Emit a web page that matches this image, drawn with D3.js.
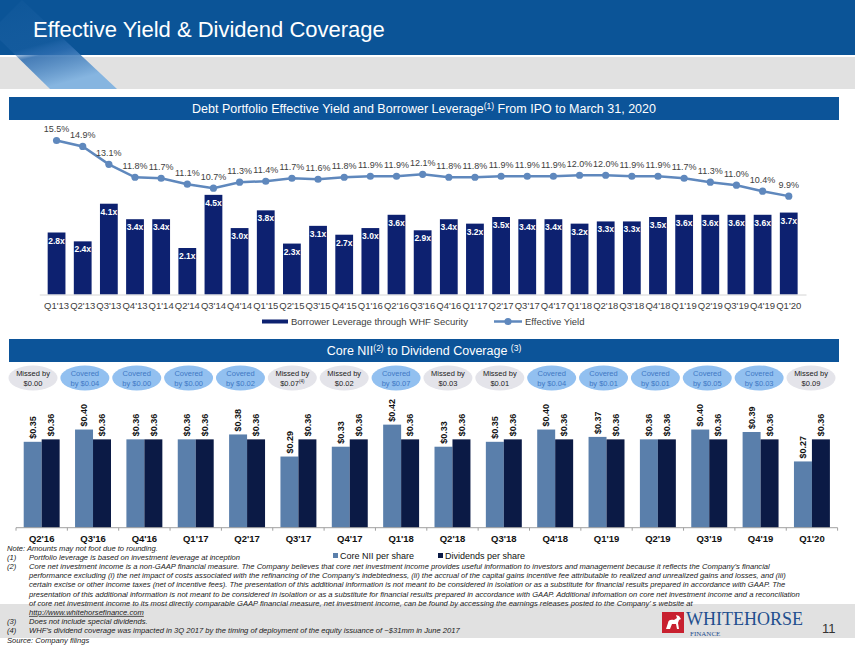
<!DOCTYPE html>
<html>
<head>
<meta charset="utf-8">
<script src="https://cdn.jsdelivr.net/npm/d3@7"></script>
<style>
  body { margin: 0; background: #fff; }
  svg { display: block; font-family: "Liberation Sans", Arial, sans-serif; }
</style>
</head>
<body>
<div id="canvas"></div>
<script>
"use strict"

/* Data: top chart */
let quarters = ["Q1'13", "Q2'13", "Q3'13", "Q4'13", "Q1'14", "Q2'14", "Q3'14", "Q4'14",
    "Q1'15", "Q2'15", "Q3'15", "Q4'15", "Q1'16", "Q2'16", "Q3'16", "Q4'16",
    "Q1'17", "Q2'17", "Q3'17", "Q4'17", "Q1'18", "Q2'18", "Q3'18", "Q4'18",
    "Q1'19", "Q2'19", "Q3'19", "Q4'19", "Q1'20"];
let leverage = [2.8, 2.4, 4.1, 3.4, 3.4, 2.1, 4.5, 3.0, 3.8, 2.3, 3.1, 2.7, 3.0, 3.6, 2.9,
    3.4, 3.2, 3.5, 3.4, 3.4, 3.2, 3.3, 3.3, 3.5, 3.6, 3.6, 3.6, 3.6, 3.7];
let yieldPct = [15.5, 14.9, 13.1, 11.8, 11.7, 11.1, 10.7, 11.3, 11.4, 11.7, 11.6, 11.8, 11.9, 11.9, 12.1,
    11.8, 11.8, 11.9, 11.9, 11.9, 12.0, 12.0, 11.9, 11.9, 11.7, 11.3, 11.0, 10.4, 9.9];

/* Data: bottom chart */
let quarters2 = ["Q2'16", "Q3'16", "Q4'16", "Q1'17", "Q2'17", "Q3'17", "Q4'17", "Q1'18",
    "Q2'18", "Q3'18", "Q4'18", "Q1'19", "Q2'19", "Q3'19", "Q4'19", "Q1'20"];
let coreNII = [0.35, 0.40, 0.36, 0.36, 0.38, 0.29, 0.33, 0.42, 0.33, 0.35, 0.40, 0.37, 0.36, 0.40, 0.39, 0.27];
let dividends = [0.36, 0.36, 0.36, 0.36, 0.36, 0.36, 0.36, 0.36, 0.36, 0.36, 0.36, 0.36, 0.36, 0.36, 0.36, 0.36];
let coverageWord = ["Missed by", "Covered", "Covered", "Covered", "Covered", "Missed by", "Missed by", "Covered",
    "Missed by", "Missed by", "Covered", "Covered", "Covered", "Covered", "Covered", "Missed by"];
let coverageAmt = ["$0.00", "by $0.04", "by $0.00", "by $0.00", "by $0.02", "$0.07", "$0.02", "by $0.07",
    "$0.03", "$0.01", "by $0.04", "by $0.01", "by $0.01", "by $0.05", "by $0.03", "$0.09"];
let coverageNote = ["", "", "", "", "", "(4)", "", "", "", "", "", "", "", "", "", ""];
let seriesNames = ["Core NII per share", "Dividends per share"];

let footnotes = [
    ["Note:", "Amounts  may  not foot due to rounding."],
    ["(1)", "Portfolio leverage is based on investment  leverage  at inception"],
    ["(2)", "Core  net investment  income  is a non-GAAP  financial measure.  The Company  believes that core net investment  income  provides useful information  to investors and management   because it reflects the Company\u2019s  financial"],
    ["", "performance  excluding (i) the net impact  of costs associated with the refinancing of the Company\u2019s  indebtedness, (ii) the accrual of the capital gains incentive fee attributable to realized  and unrealized gains and losses, and (iii)"],
    ["", "certain excise or other income taxes (net of incentive fees). The presentation of this additional information  is not meant  to be considered in isolation or as a substitute for financial results prepared  in accordance with GAAP.  The"],
    ["", "presentation of this additional information  is not meant  to be considered in isolation or as a substitute for financial results prepared in accordance with GAAP.  Additional infomation  on core net investment  income  and a reconciliation"],
    ["", "of core net investment  income  to its most  directly comparable  GAAP  financial measure,  net investment  income,  can be found by accessing the earnings releases posted to the Company\u2019 s  website at"],
    ["", "http://www.whitehorsefinance.com"],
    ["(3)", "Does not include special dividends."],
    ["(4)", "WHF\u2019s dividend  coverage  was impacted  in 3Q 2017  by the timing of deployment  of the equity issuance of ~$31mm   in June 2017"],
    ["Source:", "Company  filings"]
];

/* Drawing config */
let svgWidth = 855;
let svgHeight = 654;
let headerBlue = "#0c5499";
let navy = "#0d2170";
let lineBlue = "#5f88bd";
let lightBar = "#5a7fab";
let darkBar = "#0b1a45";

let svg = d3.select("#canvas")
    .append("svg")
    .attr("width", svgWidth)
    .attr("height", svgHeight);

let defs = svg.append("defs");
let stripeGrad = defs.append("linearGradient")
    .attr("id", "stripe")
    .attr("x1", "0").attr("y1", "0")
    .attr("x2", "0.35").attr("y2", "1");
stripeGrad.append("stop").attr("offset", "0").attr("stop-color", "#5a92cf").attr("stop-opacity", 0.03);
stripeGrad.append("stop").attr("offset", "0.55").attr("stop-color", "#3a78ba").attr("stop-opacity", 0.18);
stripeGrad.append("stop").attr("offset", "0.66").attr("stop-color", "#2c6cb0").attr("stop-opacity", 0.85);
stripeGrad.append("stop").attr("offset", "1").attr("stop-color", "#86b5e0").attr("stop-opacity", 1);

/* Title band */
svg.append("rect")
    .attr("x", 0).attr("y", 0)
    .attr("width", svgWidth).attr("height", 55)
    .attr("fill", "#0b5497");
svg.append("rect")
    .attr("x", 0).attr("y", 57)
    .attr("width", svgWidth).attr("height", 32)
    .attr("fill", "#e1e1e1");
svg.append("polygon")
    .attr("points", "0,22 22,0 117,89 50,89 0,40")
    .attr("fill", "url(#stripe)");
svg.append("text")
    .attr("x", 33)
    .attr("y", 37)
    .attr("fill", "#fff")
    .style("font-size", "22px")
    .text("Effective Yield & Dividend Coverage");

/* Section headers */
function header(y, parts) {
    svg.append("rect")
        .attr("x", 9).attr("y", y)
        .attr("width", 830).attr("height", 23)
        .attr("fill", headerBlue);
    let t = svg.append("text")
        .attr("x", 424)
        .attr("y", y + 16)
        .attr("text-anchor", "middle")
        .attr("fill", "#fff")
        .style("font-size", "12.5px");
    parts.forEach(function (p) {
        let ts = t.append("tspan").text(p[0]);
        if (p[1]) ts.attr("dy", -4).style("font-size", "8.5px");
        if (p[2]) ts.attr("dy", 4);
    });
}
header(97, [["Debt Portfolio Effective Yield and Borrower Leverage"], ["(1)", true], [" From IPO to March 31, 2020", false, true]]);
header(339, [["Core NII"], ["(2)", true], [" to Dividend Coverage ", false, true], ["(3)", true]]);

/**** Top chart ****/
let xTop = d3.scaleBand()
    .domain(quarters)
    .range([39.3, 806])
    .padding(0.32);

let yBar = d3.scaleLinear()
    .domain([0, 7])
    .range([294.5, 139.5]);

let yLine = d3.scaleLinear()
    .domain([0, 15.6])
    .range([294.5, 139.5]);

let topData = quarters.map(function (q, i) {
    return { q: q, lev: leverage[i], yld: yieldPct[i] };
});

svg.append("g")
    .selectAll("rect")
    .data(topData)
    .join("rect")
    .attr("x", d => xTop(d.q))
    .attr("y", d => yBar(d.lev))
    .attr("width", xTop.bandwidth())
    .attr("height", d => yBar(0) - yBar(d.lev))
    .attr("fill", navy);

svg.append("g")
    .selectAll("text")
    .data(topData)
    .join("text")
    .attr("x", d => xTop(d.q) + xTop.bandwidth() / 2)
    .attr("y", d => yBar(d.lev) + 11)
    .attr("text-anchor", "middle")
    .attr("fill", "#fff")
    .style("font-size", "8.5px")
    .style("font-weight", "bold")
    .text(d => d.lev.toFixed(1) + "x");

let xAxisTop = svg.append("g")
    .attr("transform", "translate(0," + yBar(0) + ")")
    .call(d3.axisBottom(xTop).tickSize(0).tickPadding(8));
xAxisTop.select(".domain").attr("stroke", "#d4d4d4");
xAxisTop.selectAll("text")
    .attr("fill", "#404040")
    .style("font-size", "9.5px")
    .style("font-family", "Liberation Sans, Arial, sans-serif");

let line = d3.line()
    .x(d => xTop(d.q) + xTop.bandwidth() / 2)
    .y(d => yLine(d.yld));

svg.append("path")
    .datum(topData)
    .attr("d", line)
    .attr("fill", "none")
    .attr("stroke", lineBlue)
    .attr("stroke-width", 2.5);

svg.append("g")
    .selectAll("circle")
    .data(topData)
    .join("circle")
    .attr("cx", d => xTop(d.q) + xTop.bandwidth() / 2)
    .attr("cy", d => yLine(d.yld))
    .attr("r", 3.6)
    .attr("fill", lineBlue);

svg.append("g")
    .selectAll("text")
    .data(topData)
    .join("text")
    .attr("x", d => xTop(d.q) + xTop.bandwidth() / 2)
    .attr("y", d => yLine(d.yld) - 8)
    .attr("text-anchor", "middle")
    .attr("fill", "#404040")
    .style("font-size", "9px")
    .text(d => d.yld.toFixed(1) + "%");

/* top legend */
let legY = 321.5;
svg.append("line")
    .attr("x1", 262).attr("x2", 288)
    .attr("y1", legY).attr("y2", legY)
    .attr("stroke", navy).attr("stroke-width", 4);
svg.append("text")
    .attr("x", 291).attr("y", legY + 3.5)
    .attr("fill", "#404040")
    .style("font-size", "9.5px")
    .text("Borrower Leverage through WHF Security");
svg.append("line")
    .attr("x1", 494).attr("x2", 522)
    .attr("y1", legY).attr("y2", legY)
    .attr("stroke", lineBlue).attr("stroke-width", 2.5);
svg.append("circle")
    .attr("cx", 508).attr("cy", legY)
    .attr("r", 3.6).attr("fill", lineBlue);
svg.append("text")
    .attr("x", 525).attr("y", legY + 3.5)
    .attr("fill", "#404040")
    .style("font-size", "9.5px")
    .text("Effective Yield");

/**** Bottom chart ****/
let x0 = d3.scaleBand()
    .domain(quarters2)
    .range([16, 837.6])
    .paddingInner(0.3)
    .paddingOuter(0.15);

let x1 = d3.scaleBand()
    .domain(seriesNames)
    .range([0, x0.bandwidth()]);

let yBot = d3.scaleLinear()
    .domain([0, 0.5])
    .range([527.7, 405]);

let xBubble = d3.scalePoint()
    .domain(quarters2)
    .range([33, 811]);

let botData = quarters2.map(function (q, i) {
    return {
        q: q,
        vals: [{ s: seriesNames[0], v: coreNII[i] }, { s: seriesNames[1], v: dividends[i] }],
        word: coverageWord[i],
        amt: coverageAmt[i],
        note: coverageNote[i]
    };
});

let color = d3.scaleOrdinal()
    .domain(seriesNames)
    .range([lightBar, darkBar]);

/* coverage bubbles */
let bubbles = svg.append("g")
    .selectAll("g")
    .data(botData)
    .join("g")
    .attr("transform", d => "translate(" + xBubble(d.q) + ",378)");

bubbles.append("ellipse")
    .attr("rx", 24.5)
    .attr("ry", 12.5)
    .attr("fill", d => d.word === "Covered" ? "#92c0f0" : "#e4e4ea");

bubbles.append("text")
    .attr("y", -2)
    .attr("text-anchor", "middle")
    .attr("fill", d => d.word === "Covered" ? "#3f78c4" : "#222")
    .style("font-size", "7.5px")
    .text(d => d.word);

let amtText = bubbles.append("text")
    .attr("y", 7.5)
    .attr("text-anchor", "middle")
    .attr("fill", d => d.word === "Covered" ? "#3f78c4" : "#222")
    .style("font-size", "7.5px");
amtText.append("tspan").text(d => d.amt);
amtText.append("tspan")
    .attr("dy", -2.5)
    .style("font-size", "4.5px")
    .text(d => d.note);

/* grouped bars */
let groups = svg.append("g")
    .selectAll("g")
    .data(botData)
    .join("g")
    .attr("transform", d => "translate(" + x0(d.q) + ",0)");

groups.selectAll("rect")
    .data(d => d.vals)
    .join("rect")
    .attr("x", d => x1(d.s))
    .attr("y", d => yBot(d.v))
    .attr("width", x1.bandwidth())
    .attr("height", d => yBot(0) - yBot(d.v))
    .attr("fill", d => color(d.s));

groups.selectAll("text")
    .data(d => d.vals)
    .join("text")
    .attr("transform", d => "translate(" + (x1(d.s) + x1.bandwidth() / 2) + "," + (yBot(d.v) - 3) + ") rotate(-90)")
    .attr("dy", "0.35em")
    .attr("fill", "#111")
    .style("font-size", "9px")
    .style("font-weight", "bold")
    .text(d => "$" + d.v.toFixed(2));

/* bottom axis with ticks between categories */
let axisG = svg.append("g")
    .attr("transform", "translate(0," + yBot(0) + ")");
axisG.append("line")
    .attr("x1", 16).attr("x2", 837.6)
    .attr("stroke", "#a0a0a0");
axisG.selectAll(".tick")
    .data(quarters2.concat(["end"]))
    .join("line")
    .attr("class", "tick")
    .attr("x1", (d, i) => i < quarters2.length ? x0(d) - x0.step() * x0.paddingInner() / 2 : 837.6)
    .attr("x2", (d, i) => i < quarters2.length ? x0(d) - x0.step() * x0.paddingInner() / 2 : 837.6)
    .attr("y1", 0).attr("y2", 3)
    .attr("stroke", "#a0a0a0");
axisG.selectAll(".lab")
    .data(quarters2)
    .join("text")
    .attr("class", "lab")
    .attr("x", d => x0(d) + x0.bandwidth() / 2)
    .attr("y", 14)
    .attr("text-anchor", "middle")
    .attr("fill", "#111")
    .style("font-size", "9.5px")
    .style("font-weight", "bold")
    .text(d => d);

/* bottom legend */
let legend2 = svg.append("g")
    .selectAll("g")
    .data(seriesNames)
    .join("g")
    .attr("transform", (d, i) => "translate(" + (333 + i * 105) + ",556)");
legend2.append("rect")
    .attr("x", 0).attr("y", -3)
    .attr("width", 5).attr("height", 5)
    .attr("fill", d => color(d));
legend2.append("text")
    .attr("x", 7).attr("y", 3)
    .attr("fill", "#111")
    .style("font-size", "9px")
    .text(d => d);

/**** Footer ****/
svg.append("rect")
    .attr("x", 0).attr("y", 604)
    .attr("width", svgWidth).attr("height", 34)
    .attr("fill", "#e1e1e1");

let fn = svg.append("g")
    .style("font-size", "7.6px")
    .style("font-style", "italic")
    .attr("fill", "#222");
footnotes.forEach(function (f, i) {
    let y = 550.5 + i * 9.2;
    if (f[0] === "Note:" || f[0] === "Source:") {
        fn.append("text").attr("x", 7).attr("y", y).text(f[0] + " " + f[1]);
    } else {
        if (f[0]) fn.append("text").attr("x", 7).attr("y", y).text(f[0]);
        let t = fn.append("text").attr("x", 29).attr("y", y).text(f[1]);
        if (f[1].indexOf("http") === 0) t.style("text-decoration", "underline");
    }
});

/* logo */
let logo = svg.append("g").attr("transform", "translate(662,612)");
logo.append("rect")
    .attr("width", 22).attr("height", 21)
    .attr("fill", "#c8202f");
logo.append("path")
    .attr("d", "M4,17 L6,11 C6,8 9,7 12,8 L15,6 L14,3 L17,4 L19,7 L17,8 L16,11 L17,17 L15,17 L14,12 L10,12 L8,17 Z")
    .attr("fill", "#fff");
logo.append("text")
    .attr("x", 24).attr("y", 13)
    .attr("fill", "#1f4f8e")
    .style("font-family", "Liberation Serif, serif")
    .style("font-size", "18px")
    .text("WHITEHORSE");
logo.append("text")
    .attr("x", 28).attr("y", 23.5)
    .attr("fill", "#1f4f8e")
    .style("font-family", "Liberation Serif, serif")
    .style("font-size", "7px")
    .text("FINANCE");

svg.append("text")
    .attr("x", 822).attr("y", 633)
    .attr("fill", "#333")
    .style("font-size", "13px")
    .text("11");
</script>
</body>
</html>
